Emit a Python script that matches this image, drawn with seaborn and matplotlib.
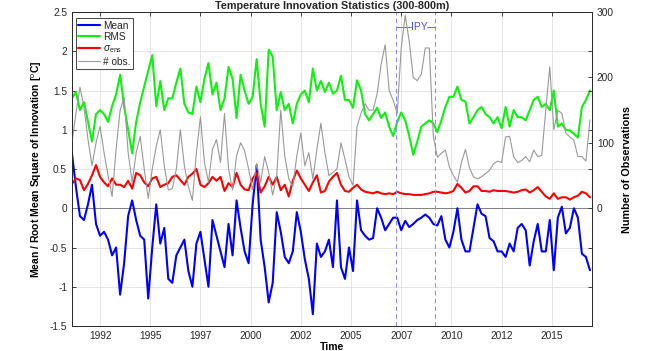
import numpy as np
import pandas as pd
import matplotlib
matplotlib.use("Agg")
import matplotlib.pyplot as plt
import seaborn as sns
from matplotlib.ticker import FormatStrFormatter, FixedLocator

# ---------------- data ----------------
t_start = 1991.1
t_step = 0.2

mean_vals = [0.70, 0.27, -0.10, -0.15, 0.05, 0.30, -0.20, -0.35, -0.30, -0.40,
             -0.60, -0.50, -1.10, -0.70, -0.10, 0.10, -0.15, -0.35, -0.40, -1.15,
             -0.50, 0.05, -0.45, -0.25, -0.90, -0.95, -0.60, -0.50, -0.40, -0.80,
             -1.00, -0.45, -0.30, -0.65, -1.00, -0.15, -0.35, -0.55, -0.75, -0.20,
             -0.60, 0.10, -0.25, -0.55, -0.70, 0.05, 0.55, -0.40, -0.75, -1.20,
             -0.95, -0.05, -0.30, -0.62, -0.70, -0.55, -0.05, -0.30, -0.65, -0.90,
             -1.35, -0.45, -0.62, -0.55, -0.40, -0.75, 0.10, -0.75, -0.90, -0.50,
             -0.80, 0.10, -0.28, -0.35, -0.40, -0.38, 0.00, -0.12, -0.28, -0.20,
             -0.12, -0.12, -0.28, -0.16, -0.24, -0.20, -0.15, -0.12, -0.08, -0.12,
             -0.20, -0.22, -0.10, -0.40, -0.50, -0.30, 0.00, -0.40, -0.55, -0.55,
             -0.25, 0.05, -0.07, -0.10, -0.38, -0.42, -0.55, -0.55, -0.62, -0.45,
             -0.55, -0.25, -0.20, -0.28, -0.73, -0.42, -0.20, -0.55, -0.55, -0.15,
             -0.79, -0.12, 0.02, -0.32, -0.25, 0.00, -0.12, -0.58, -0.62, -0.79]

rms_vals = [1.40, 1.48, 1.25, 1.35, 1.10, 0.85, 1.20, 1.25, 1.20, 1.10,
            1.30, 1.45, 1.70, 1.30, 1.00, 0.70, 1.10, 1.35, 1.55, 1.75,
            1.95, 1.30, 1.62, 1.25, 1.40, 1.40, 1.60, 1.78, 1.33, 1.22,
            1.20, 1.55, 1.35, 1.65, 1.85, 1.45, 1.60, 1.25, 1.40, 1.80,
            1.65, 1.15, 1.70, 1.50, 1.33, 1.42, 1.90, 1.33, 1.04, 2.02,
            1.93, 1.25, 1.48, 1.25, 1.33, 1.08, 1.33, 1.45, 1.50, 1.35,
            1.78, 1.50, 1.62, 1.48, 1.60, 1.46, 1.50, 1.69, 1.38, 1.38,
            1.28, 1.63, 1.50, 1.20, 1.12, 1.20, 1.28, 1.15, 1.22, 1.04,
            0.92, 1.10, 1.22, 1.12, 0.92, 0.68, 0.85, 1.04, 1.08, 1.12,
            1.08, 0.97, 1.12, 1.29, 1.42, 1.42, 1.55, 1.38, 1.36, 1.08,
            1.16, 1.25, 1.29, 1.20, 1.16, 1.08, 1.16, 1.02, 1.29, 1.04,
            1.25, 1.16, 1.16, 1.12, 1.25, 1.38, 1.42, 1.29, 1.33, 1.25,
            1.50, 1.04, 1.08, 1.00, 0.99, 0.95, 0.90, 1.29, 1.38, 1.50]

sigma_vals = [0.31, 0.38, 0.36, 0.23, 0.31, 0.42, 0.55, 0.40, 0.33, 0.28,
              0.38, 0.30, 0.30, 0.27, 0.35, 0.25, 0.45, 0.42, 0.33, 0.28,
              0.38, 0.40, 0.27, 0.30, 0.32, 0.40, 0.42, 0.36, 0.30, 0.40,
              0.44, 0.50, 0.30, 0.27, 0.32, 0.40, 0.35, 0.40, 0.22, 0.32,
              0.27, 0.45, 0.30, 0.24, 0.23, 0.38, 0.45, 0.20, 0.28, 0.40,
              0.30, 0.40, 0.23, 0.30, 0.15, 0.35, 0.48, 0.38, 0.30, 0.22,
              0.33, 0.42, 0.20, 0.22, 0.34, 0.40, 0.45, 0.30, 0.22, 0.21,
              0.26, 0.30, 0.24, 0.21, 0.20, 0.19, 0.21, 0.19, 0.18, 0.19,
              0.18, 0.21, 0.19, 0.18, 0.18, 0.17, 0.17, 0.17, 0.18, 0.19,
              0.21, 0.21, 0.20, 0.19, 0.20, 0.22, 0.31, 0.26, 0.20, 0.22,
              0.28, 0.28, 0.22, 0.22, 0.21, 0.23, 0.22, 0.22, 0.22, 0.21,
              0.20, 0.21, 0.23, 0.24, 0.20, 0.23, 0.27, 0.21, 0.15, 0.12,
              0.19, 0.12, 0.14, 0.14, 0.11, 0.14, 0.16, 0.21, 0.19, 0.14]

nobs_vals = [100, 145, 185, 155, 105, 65, 100, 125, 85, 50,
             18, 90, 150, 170, 85, 40, 85, 110, 60, 15,
             60, 95, 120, 65, 28, 30, 60, 120, 65, 33,
             12, 85, 140, 70, 40, 90, 105, 70, 145, 60,
             28, 80, 100, 88, 60, 28, 68, 40, 79, 55,
             20, 50, 150, 80, 45, 33, 80, 115, 65, 85,
             45, 90, 130, 85, 50, 55, 60, 100, 75, 48,
             35, 125, 145, 160, 150, 150, 175, 220, 250, 180,
             165, 145, 245, 295, 255, 200, 195, 205, 245, 245,
             110, 78, 84, 89, 63, 50, 40, 70, 90, 62,
             48, 45, 48, 53, 58, 68, 72, 70, 109, 110,
             79, 70, 73, 79, 71, 89, 79, 81, 150, 216,
             120, 150, 145, 115, 109, 104, 79, 79, 72, 135]

xtick_pos = [1992.5, 1995.0, 1997.5, 2000.0, 2002.5, 2005.0, 2007.5, 2010.0, 2012.5, 2015.0]
xtick_labels = ["1992", "1995", "1997", "2000", "2002", "2005", "2007", "2010", "2012", "2015"]
left_ticks = [-1.5, -1.0, -0.5, 0.0, 0.5, 1.0, 1.5, 2.0, 2.5]
right_ticks = [0, 100, 200, 300]
ipy_start, ipy_end = 2007.23, 2009.2
ipy_level = 2.306

time = t_start + t_step * np.arange(len(mean_vals))
df = pd.DataFrame({"time": time, "mean": mean_vals, "rms": rms_vals,
                   "sigma": sigma_vals, "nobs": nobs_vals})

# ---------------- style ----------------
sns.set_theme(style="white")
plt.rcParams["font.family"] = ["Liberation Sans", "DejaVu Sans"]
plt.rcParams["mathtext.fontset"] = "custom"
plt.rcParams["mathtext.rm"] = "Liberation Sans"
plt.rcParams["mathtext.it"] = "Liberation Sans:italic"
dark = "0.15"

fig = plt.figure(figsize=(6.48, 3.51), dpi=100)
ax = fig.add_axes([0.111, 0.0712, 0.8025, 0.8946])
ax2 = ax.twinx()

ax.grid(True, color="0.88", lw=0.6)
ax.set_axisbelow(True)
ax.axhline(0, color="0.5", lw=0.7, zorder=1)

sns.lineplot(data=df, x="time", y="mean", ax=ax, color=(0, 0, 1), lw=1.5, label="Mean")
sns.lineplot(data=df, x="time", y="rms", ax=ax, color=(0.05, 0.95, 0.05), lw=1.5, label="RMS")
sns.lineplot(data=df, x="time", y="sigma", ax=ax, color=(1, 0, 0), lw=1.5,
             label=r"$\sigma_{\rm ens}$")
sns.lineplot(data=df, x="time", y="nobs", ax=ax2, color="0.6", lw=0.8, label="# obs.")

# IPY markers
for xv in (ipy_start, ipy_end):
    ax.axvline(xv, color=(0.55, 0.55, 1.0), lw=0.8, ls=(0, (4, 3)), zorder=2)
ax.plot([ipy_start, 2008.0], [ipy_level, ipy_level], color=(0.4, 0.4, 1.0), lw=0.7)
ax.plot([2008.8, ipy_end], [ipy_level, ipy_level], color=(0.4, 0.4, 1.0), lw=0.7)
ax.text(2008.42, ipy_level, "IPY", ha="center", va="center", color=(0.3, 0.3, 1.0), fontsize=7.5)

# axes limits / ticks
ax.set_xlim(1991.1, 2017.0)
ax.set_ylim(-1.5, 2.5)
ax2.set_ylim(-180, 300)
ax.set_xticks(xtick_pos)
ax.set_xticklabels(xtick_labels)
ax.set_yticks(left_ticks)
ax.yaxis.set_major_formatter(FormatStrFormatter("%g"))
ax2.set_yticks(right_ticks)
ax2.yaxis.set_minor_locator(FixedLocator([v * 120 for v in left_ticks if v != 0]))

for a in (ax, ax2):
    for s in a.spines.values():
        s.set_color(dark)
        s.set_linewidth(0.6)
ax.tick_params(axis="both", which="both", direction="in", length=3, width=0.6,
               colors=dark, labelsize=7.3, top=True)
ax2.tick_params(axis="y", which="both", direction="in", length=3, width=0.6,
                colors=dark, labelsize=7.3)

ax.set_xlabel("Time", fontsize=7.5, fontweight="bold", color="black", labelpad=1)
ax.set_ylabel("Mean / Root Mean Square of Innovation [$^{\\rm o}$C]", fontsize=7.5,
              fontweight="bold", color="black", labelpad=4)
ax2.set_ylabel("Number of Observations", fontsize=7.8, fontweight="bold", color="black", labelpad=6)
ax.set_title("Temperature Innovation Statistics (300-800m)", fontsize=7.8,
             fontweight="bold", pad=2)

# legend
h1, l1 = ax.get_legend_handles_labels()
h2, l2 = ax2.get_legend_handles_labels()
for a in (ax, ax2):
    if a.get_legend() is not None:
        a.get_legend().remove()
leg = ax2.legend(h1 + h2, l1 + l2, loc="upper left", bbox_to_anchor=(0.007, 0.981),
                 borderaxespad=0, fontsize=7.3, frameon=True, fancybox=False,
                 edgecolor=dark, framealpha=1, borderpad=0.25, labelspacing=0.15,
                 handlelength=2.2, handletextpad=0.3)
leg.get_frame().set_linewidth(0.6)

fig.savefig("out.png", dpi=100)
